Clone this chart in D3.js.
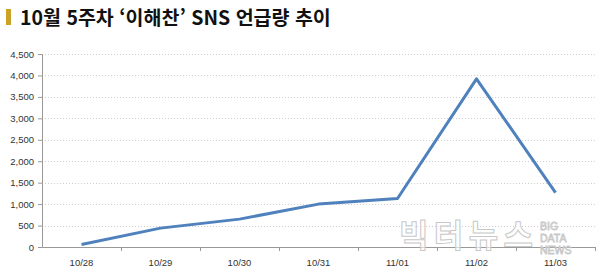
<!DOCTYPE html>
<html lang="ko">
<head>
<meta charset="UTF-8">
<title>10월 5주차 이해찬 SNS 언급량 추이</title>
<script src="https://d3js.org/d3.v7.min.js"></script>
<style>
  body { margin: 0; background: #fff; }
  svg text { font-family: "Noto Sans CJK KR", "Noto Sans", sans-serif; }
  svg .tick text, svg text.wmen { font-family: "Liberation Sans", Arial, sans-serif; }
</style>
</head>
<body>
<svg width="600" height="272"></svg>
<script>
var dates = ['10/28', '10/29', '10/30', '10/31', '11/01', '11/02', '11/03']
var mentions = [60, 440, 650, 1000, 1130, 3920, 1270]
var yTicks = [0, 500, 1000, 1500, 2000, 2500, 3000, 3500, 4000, 4500]

var margin = { top: 54, right: 5, bottom: 25, left: 42 }
var w = 600 - margin.left - margin.right
var h = 272 - margin.top - margin.bottom

var svg = d3.select('svg')

// title
svg.append('rect')
  .attr('x', 6).attr('y', 9).attr('width', 5).attr('height', 16)
  .attr('fill', '#c9a227')
svg.append('text')
  .attr('x', 20).attr('y', 25)
  .attr('font-size', 19.5).attr('font-weight', 'bold')
  .attr('fill', '#111')
  .text('10월 5주차 ‘이해찬’ SNS 언급량 추이')

var g = svg.append('g')
  .attr('transform', `translate(${margin.left},${margin.top})`)

var x = d3.scaleBand().domain(dates).range([0, w])
var y = d3.scaleLinear().domain([0, 4500]).range([h, 0])

// gridlines
g.selectAll('.grid')
  .data(yTicks.slice(1))
  .enter().append('line')
  .attr('x1', 0).attr('x2', w)
  .attr('y1', d => Math.round(y(d)) + 0.5)
  .attr('y2', d => Math.round(y(d)) + 0.5)
  .attr('stroke', '#cfcfcf')
  .attr('stroke-dasharray', '1,2')

// y axis
var yAxis = g.append('g')
  .call(d3.axisLeft(y).tickValues(yTicks).tickFormat(d3.format(',')).tickSize(4).tickPadding(4))
yAxis.select('.domain').attr('stroke', '#999')
yAxis.selectAll('line').attr('stroke', '#999')
yAxis.selectAll('text').attr('font-size', 9.5).attr('fill', '#333')

// x axis with ticks at band edges
var xAxis = g.append('g')
  .attr('transform', `translate(0,${h})`)
  .call(d3.axisBottom(x).tickSize(0).tickPadding(12))
xAxis.select('.domain').attr('stroke', '#999')
xAxis.selectAll('text').attr('font-size', 9.5).attr('fill', '#333')
g.selectAll('.xtick')
  .data(dates.slice(1).concat(['end']))
  .enter().append('line')
  .attr('x1', (d, i) => Math.round(x.step() * (i + 1)) + 0.5)
  .attr('x2', (d, i) => Math.round(x.step() * (i + 1)) + 0.5)
  .attr('y1', h).attr('y2', h + 4)
  .attr('stroke', '#999')

// watermark
var wm = svg.append('g').attr('fill', '#fff').attr('fill-opacity', 0.6).attr('stroke', '#c8c8c8').attr('stroke-width', 1)
wm.append('text')
  .attr('x', 399).attr('y', 247)
  .attr('font-size', 32).attr('font-weight', 'bold')
  .attr('textLength', 134)
  .text('빅터뉴스')
wm.selectAll('.wmen')
  .data(['BIG', 'DATA', 'NEWS'])
  .enter().append('text')
  .attr('class', 'wmen')
  .attr('x', 540).attr('y', (d, i) => 230 + i * 12)
  .attr('font-size', 10.5).attr('stroke-width', 0.8)
  .text(d => d)

// line
var line = d3.line()
  .x((d, i) => x(dates[i]) + x.bandwidth() / 2)
  .y(d => y(d))

g.append('path')
  .datum(mentions)
  .attr('d', line)
  .attr('fill', 'none')
  .attr('stroke', '#4f81bd')
  .attr('stroke-width', 3)
  .attr('stroke-linejoin', 'round')
</script>
</body>
</html>
